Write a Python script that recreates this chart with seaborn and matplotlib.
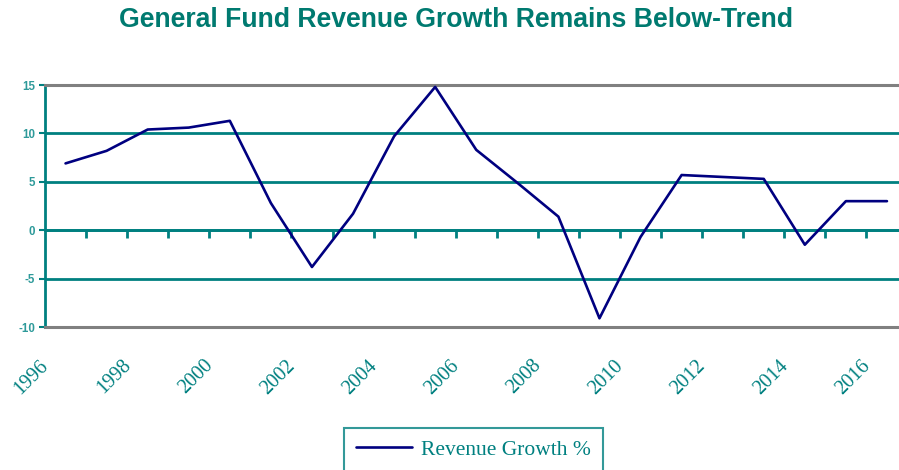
import matplotlib
matplotlib.use("Agg")
import matplotlib.pyplot as plt
import matplotlib.transforms as mtransforms
import seaborn as sns
import pandas as pd
import numpy as np

years = list(range(1996, 2017))
growth = [6.9, 8.2, 10.4, 10.6, 11.3, 2.8, -3.8, 1.7, 9.7, 14.8, 8.3, 4.9,
          1.4, -9.1, -0.7, 5.7, 5.5, 5.3, -1.5, 3.0, 3.0]
series_name = "Revenue Growth %"
title = "General Fund Revenue Growth Remains Below-Trend"
yticks = [-10, -5, 0, 5, 10, 15]
xlabel_years = list(range(1996, 2017, 2))

TEAL = "#008080"
GRAY = "#808080"
NAVY = "#000080"

sns.set_style("white")
plt.rcParams['font.family'] = ['Liberation Sans', 'DejaVu Sans']

df = pd.DataFrame({"Year": years, series_name: growth})

fig = plt.figure(figsize=(8.99, 4.70), dpi=100)
ax = fig.add_axes([45/899, 1-327/470, (907.5-45)/899, (327-85)/470])

sns.lineplot(data=df, x="Year", y=series_name, ax=ax, color=NAVY, linewidth=1.9,
             label=series_name, legend=False, clip_on=False, zorder=5)

ax.set_xlim(1995.5, 2016.5)
ax.set_ylim(-10, 15)
ax.set_xlabel("")
ax.set_ylabel("")

# gridlines
for v in yticks:
    if v in (-10, 15):
        continue
    ax.axhline(v, color=TEAL, linewidth=2, zorder=1)

for s in ["top", "bottom"]:
    ax.spines[s].set_color(GRAY)
    ax.spines[s].set_linewidth(2.2)
ax.spines["right"].set_visible(False)
ax.spines["left"].set_color(TEAL)
ax.spines["left"].set_linewidth(2)

ax.set_yticks(yticks)
ax.set_yticklabels([str(v) for v in yticks])
ax.tick_params(axis="y", direction="out", length=4, width=1.5, color=TEAL,
               labelcolor="#2E9A9A", labelsize=8.3, pad=3, left=True)
for lab in ax.get_yticklabels():
    lab.set_fontweight("bold")

ax.set_xticks(xlabel_years)
ax.set_xticklabels([str(y) for y in xlabel_years], rotation=45, ha="right", va="top",
                   fontsize=14.5, color=TEAL, family=["Liberation Serif", "DejaVu Serif"])
ax.tick_params(axis="x", length=0, pad=21, bottom=True)
offset = mtransforms.ScaledTranslation(-13/100, 0, fig.dpi_scale_trans)
for lab in ax.get_xticklabels():
    lab.set_transform(lab.get_transform() + offset)

# zero axis with category tick marks
sec = ax.secondary_xaxis(0.4)
sec.set_xticks([y + 0.5 for y in years[:-1]])
sec.set_xticklabels([])
sec.tick_params(axis="x", direction="out", length=6, width=2, color=TEAL)
sec.spines["bottom"].set_color(TEAL)
sec.spines["bottom"].set_linewidth(2)

fig.text(456/899, 1-20/470, title, ha="center", va="center", fontsize=19.2,
         fontweight="bold", color="#007A70")

leg = fig.legend(handles=ax.get_lines()[:1], labels=[series_name],
                 loc="upper center", bbox_to_anchor=(473.5/899, 1-428/470),
                 frameon=True, fancybox=False, handlelength=2.6, handletextpad=0.4,
                 borderpad=0.55, borderaxespad=0,
                 prop={"family": ["Liberation Serif", "DejaVu Serif"], "size": 15.5})
leg.get_frame().set_edgecolor(TEAL)
leg.get_frame().set_linewidth(1.5)
for t in leg.get_texts():
    t.set_color(TEAL)

fig.savefig("out.png", dpi=100)
